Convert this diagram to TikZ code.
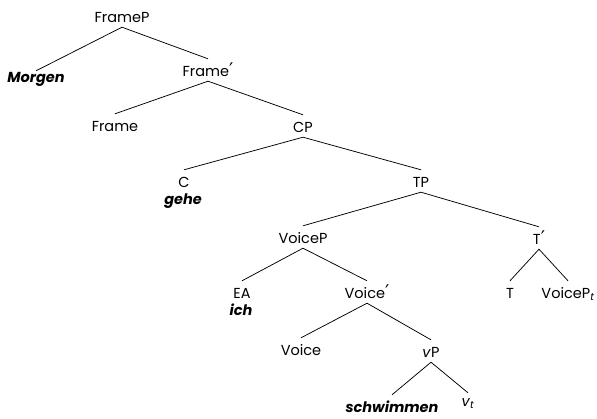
\documentclass[tikz,border=0pt]{standalone}
\usepackage{fontspec}
\setmainfont{Poppins}
\newfontfamily\primefont{DejaVu Sans}[Scale=1.3]
\newcommand{\barmark}{{\primefont ′}}
\usetikzlibrary{calc}

\begin{document}
\begin{tikzpicture}[x=1pt,y=-1pt,
  lbl/.style={anchor=base, inner xsep=0pt, inner ysep=5pt,
              text height=12pt, text depth=0pt,
              font=\fontsize{14.5}{17}\selectfont},
  lex/.style={lbl, font=\fontsize{14.5}{17}\selectfont\bfseries\itshape},
  branch/.style={draw=black, line width=0.75pt}]

\useasboundingbox (0,0) rectangle (597,418);

% labels, placed at their baselines
\node[lbl] (framep)   at (122,22)  {FrameP};
\node[lex] (morgen)   at (36,82)   {Morgen};
\node[lbl] (framebar) at (208,76)  {Frame\barmark};
\node[lbl] (frame)    at (115,131) {Frame};
\node[lbl] (cp)       at (303,132) {CP};
\node[lbl] (c)        at (184,187) {C};
\node[lex] (gehe)     at (183,204) {gehe};
\node[lbl] (tp)       at (421,187) {TP};
\node[lbl] (voicep)   at (303,243) {VoiceP};
\node[lbl] (tbar)     at (539,244) {T\barmark};
\node[lbl] (ea)       at (242,298) {EA};
\node[lex] (ich)      at (241,315) {ich};
\node[lbl] (voicebar) at (367,298) {Voice\barmark};
\node[lbl] (t)        at (510,298) {T};
\node[lbl] (voicept)  at (568,298) {VoiceP\textsubscript{\itshape t}};
\node[lbl] (voice)    at (301,355) {Voice};
\node[lbl] (vp)       at (431,357) {\textit{v}P};
\node[lex] (schw)     at (392,412) {schwimmen};
\node[lbl] (vt)       at (468,406) {\textit{v}\textsubscript{\itshape t}};

% branches
\draw[branch] (framep.south) -- ($(morgen.north)+(0,6)$);
\draw[branch] (framep.south) -- (framebar.north);
\draw[branch] (framebar.south) -- (frame.north);
\draw[branch] (framebar.south) -- (cp.north);
\draw[branch] (cp.south) -- (c.north);
\draw[branch] (cp.south) -- (tp.north);
\draw[branch] (tp.south) -- (voicep.north);
\draw[branch] (tp.south) -- (tbar.north);
\draw[branch] (voicep.south) -- (ea.north);
\draw[branch] (voicep.south) -- (voicebar.north);
\draw[branch] (tbar.south) -- (t.north);
\draw[branch] (tbar.south) -- (voicept.north);
\draw[branch] (voicebar.south) -- (voice.north);
\draw[branch] (voicebar.south) -- (vp.north);
\draw[branch] (vp.south) -- (schw.north);
\draw[branch] (vp.south) -- ($(vt.north)+(0,4)$);
\end{tikzpicture}
\end{document}
